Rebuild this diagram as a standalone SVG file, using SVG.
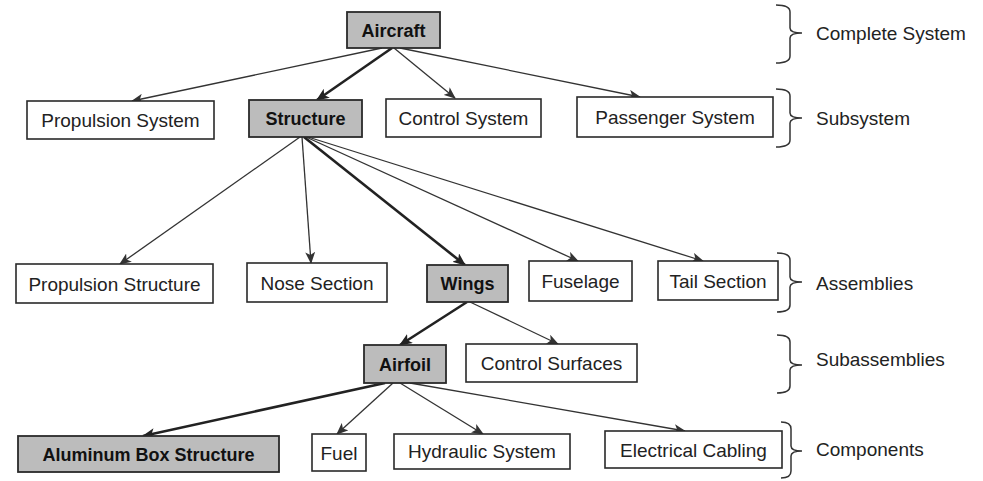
<svg xmlns="http://www.w3.org/2000/svg" width="983" height="481" viewBox="0 0 983 481">
<style>
.box{fill:#fff;stroke:#2a2a2a;stroke-width:1.6}
.hi{fill:#bcbcbc;stroke:#2a2a2a;stroke-width:1.8}
.t{font-family:"Liberation Sans",Arial,sans-serif;font-size:19px;fill:#222;text-anchor:middle}
.b{font-family:"Liberation Sans",Arial,sans-serif;font-size:18px;font-weight:bold;fill:#111;text-anchor:middle}
.lbl{font-family:"Liberation Sans",Arial,sans-serif;font-size:19px;fill:#222}
.c{stroke:#333;stroke-width:1.3;fill:none;marker-end:url(#ah)}
.k{stroke:#222;stroke-width:2.6;fill:none;marker-end:url(#ahk)}
.br{stroke:#333;stroke-width:1.5;fill:none}
</style>
<defs>
<marker id="ah" viewBox="0 0 12 10" refX="11" refY="5" markerWidth="12" markerHeight="10" markerUnits="userSpaceOnUse" orient="auto">
<path d="M0,0 L12,5 L0,10 L3,5 Z" fill="#333"/>
</marker>
<marker id="ahk" viewBox="0 0 12 10" refX="11" refY="5" markerWidth="13" markerHeight="11" markerUnits="userSpaceOnUse" orient="auto">
<path d="M0,0 L12,5 L0,10 L3,5 Z" fill="#222"/>
</marker>
</defs>
<g id="connectors">
<line class="c" x1="382" y1="48" x2="132" y2="101"/>
<line class="k" x1="392" y1="48" x2="317" y2="100"/>
<line class="c" x1="394" y1="48" x2="455" y2="98"/>
<line class="c" x1="400" y1="48" x2="640" y2="97"/>
<line class="c" x1="300" y1="137" x2="120" y2="264"/>
<line class="c" x1="302" y1="137" x2="311" y2="263"/>
<line class="k" x1="304" y1="137" x2="465" y2="265"/>
<line class="c" x1="306" y1="137" x2="578" y2="261"/>
<line class="c" x1="308" y1="137" x2="703" y2="261"/>
<line class="k" x1="467" y1="302" x2="400" y2="345"/>
<line class="c" x1="470" y1="302" x2="558" y2="344"/>
<line class="k" x1="385" y1="383" x2="143" y2="436"/>
<line class="c" x1="393" y1="383" x2="337" y2="434"/>
<line class="c" x1="400" y1="383" x2="483" y2="434"/>
<line class="c" x1="410" y1="383" x2="685" y2="431"/>
</g>
<g id="aircraft"><rect class="hi" x="347" y="12" width="93" height="36"/><text class="b" x="393.5" y="36.5">Aircraft</text></g>
<g id="propulsion-system"><rect class="box" x="27" y="101" width="187" height="38"/><text class="t" x="120.5" y="127">Propulsion System</text></g>
<g id="structure"><rect class="hi" x="249" y="100" width="113" height="37"/><text class="b" x="305.5" y="125">Structure</text></g>
<g id="control-system"><rect class="box" x="386" y="99" width="155" height="38"/><text class="t" x="463.5" y="125">Control System</text></g>
<g id="passenger-system"><rect class="box" x="577" y="97" width="196" height="40"/><text class="t" x="675" y="124">Passenger System</text></g>
<g id="propulsion-structure"><rect class="box" x="16" y="264" width="197" height="39"/><text class="t" x="114.5" y="290.5">Propulsion Structure</text></g>
<g id="nose-section"><rect class="box" x="247" y="263" width="140" height="39"/><text class="t" x="317" y="289.5">Nose Section</text></g>
<g id="wings"><rect class="hi" x="427" y="265" width="81" height="37"/><text class="b" x="467.5" y="290">Wings</text></g>
<g id="fuselage"><rect class="box" x="529" y="261" width="103" height="40"/><text class="t" x="580.5" y="288">Fuselage</text></g>
<g id="tail-section"><rect class="box" x="658" y="261" width="120" height="39"/><text class="t" x="718" y="287.5">Tail Section</text></g>
<g id="airfoil"><rect class="hi" x="364" y="345" width="82" height="38"/><text class="b" x="405" y="370.5">Airfoil</text></g>
<g id="control-surfaces"><rect class="box" x="466" y="344" width="171" height="38"/><text class="t" x="551.5" y="370">Control Surfaces</text></g>
<g id="aluminum-box-structure"><rect class="hi" x="18" y="436" width="261" height="36"/><text class="b" x="148.5" y="460.5">Aluminum Box Structure</text></g>
<g id="fuel"><rect class="box" x="312" y="434" width="54" height="37"/><text class="t" x="339" y="459.5">Fuel</text></g>
<g id="hydraulic-system"><rect class="box" x="394" y="434" width="176" height="35"/><text class="t" x="482" y="458">Hydraulic System</text></g>
<g id="electrical-cabling"><rect class="box" x="605" y="431" width="177" height="37"/><text class="t" x="693.5" y="456.5">Electrical Cabling</text></g>
<g id="levels">
<path class="br" d="M776,5 Q790,5 790,12 L790,28 Q790,33 802,33 Q790,33 790,38 L790,56 Q790,63 776,63"/>
<text class="lbl" x="816" y="40">Complete System</text>
<path class="br" d="M776,89 Q790,89 790,96 L790,113 Q790,118 802,118 Q790,118 790,123 L790,140 Q790,147 776,147"/>
<text class="lbl" x="816" y="125">Subsystem</text>
<path class="br" d="M777,253 Q790,253 790,260 L790,277 Q790,282 802,282 Q790,282 790,287 L790,305 Q790,312 777,312"/>
<text class="lbl" x="816" y="290">Assemblies</text>
<path class="br" d="M777,335 Q790,335 790,342 L790,360 Q790,365 802,365 Q790,365 790,370 L790,386 Q790,393 777,393"/>
<text class="lbl" x="816" y="366">Subassemblies</text>
<path class="br" d="M781,422 Q791,422 791,429 L791,446 Q791,451 802,451 Q791,451 791,456 L791,471 Q791,478 781,478"/>
<text class="lbl" x="816" y="456">Components</text>
</g>
</svg>
